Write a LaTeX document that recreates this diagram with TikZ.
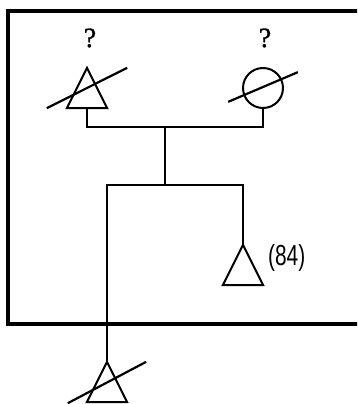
\documentclass[tikz,border=0pt]{standalone}
\usepackage{fontspec}
\setmainfont{Liberation Serif}
\newfontfamily\labfont{Liberation Sans}
\newfontfamily\qfont[FakeBold=1.2]{Liberation Serif}
\begin{document}
\begin{tikzpicture}[x=1pt,y=-1pt,
  person/.style={draw=none,minimum width=40pt,minimum height=40pt,inner sep=0pt},
  female/.style={circle,draw,line width=2pt,minimum size=40pt,inner sep=0pt},
  shapeline/.style={line width=2pt,line join=miter},
  slash/.style={line width=2.2pt},
  conn/.style={line width=1.7pt},
  frame/.style={line width=3.6pt},
  qmark/.style={font=\qfont\fontsize{28}{28}\selectfont,inner sep=0pt},
  agelab/.style={font=\labfont\fontsize{29}{29}\selectfont,xscale=0.72,transform shape,anchor=west,inner sep=0pt}]
\useasboundingbox (0,0) rectangle (357,404);
\clip (0,0) rectangle (357,404);
% frame
\draw[frame] (8,11) rectangle (380,324);
% people
\node[person] (gf) at (87,88) {};
\node[female] (gm) at (263,88) {};
\node[person] (c1) at (243,265) {};
\node[person] (c2) at (107,382) {};
\foreach \p in {gf,c1,c2}{
  \draw[shapeline] (\p.north) -- (\p.south east) -- (\p.south west) -- cycle;
}
% slashes
\draw[slash] ([xshift=-20pt]gf.south west) -- ([xshift=20pt]gf.north east);
\draw[slash] ([xshift=-20pt,yshift=1pt]gm.south west) -- ([xshift=20pt,yshift=1pt]gm.north east);
\draw[slash] ([xshift=-19pt,yshift=-1pt]c2.south west) -- ([xshift=19pt]c2.north east);
% labels
\node[qmark] (q1) at (90,38) {?};
\node[qmark] (q2) at (265,38) {?};
\node[agelab] (a1) at (268,258) {(84)};
% connectors
\coordinate (mid) at (165,127);
\coordinate (sib) at (165,185);
\draw[conn] (gf.south) |- (mid) -| (gm.south);
\draw[conn] (mid) -- (sib);
\draw[conn] (c2.north) |- (sib) -| (c1.north);
\end{tikzpicture}
\end{document}
